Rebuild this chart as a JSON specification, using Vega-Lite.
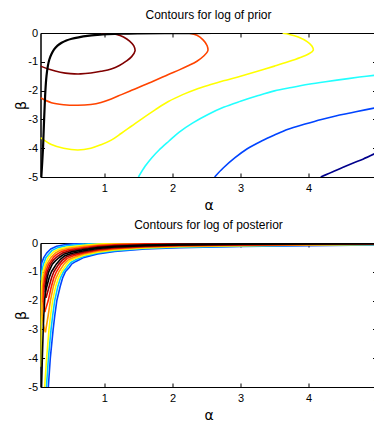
{
  "$schema": "https://vega.github.io/schema/vega-lite/v6.json",
  "background": "white",
  "padding": {"left": 13.5, "top": 8, "right": 0, "bottom": 0},
  "spacing": 66,
  "bounds": "flush",
  "datasets": {
    "prior": [
      {"curve":"p6","level":6,"alpha":0.06,"beta":-1.15},{"curve":"p6","level":6,"alpha":0.2,"beta":-1.27},{"curve":"p6","level":6,"alpha":0.35,"beta":-1.36},{"curve":"p6","level":6,"alpha":0.5,"beta":-1.41},{"curve":"p6","level":6,"alpha":0.65,"beta":-1.42},{"curve":"p6","level":6,"alpha":0.8,"beta":-1.39},{"curve":"p6","level":6,"alpha":0.95,"beta":-1.33},{"curve":"p6","level":6,"alpha":1.1,"beta":-1.25},{"curve":"p6","level":6,"alpha":1.22,"beta":-1.13},{"curve":"p6","level":6,"alpha":1.32,"beta":-0.98},{"curve":"p6","level":6,"alpha":1.4,"beta":-0.82},{"curve":"p6","level":6,"alpha":1.45,"beta":-0.62},{"curve":"p6","level":6,"alpha":1.43,"beta":-0.44},{"curve":"p6","level":6,"alpha":1.37,"beta":-0.28},{"curve":"p6","level":6,"alpha":1.28,"beta":-0.14},{"curve":"p6","level":6,"alpha":1.18,"beta":-0.05},{"curve":"p6","level":6,"alpha":1.08,"beta":-0.02},{"curve":"p6","level":6,"alpha":0.95,"beta":-0.01},
      {"curve":"p5","level":5,"alpha":0.06,"beta":-2.25},{"curve":"p5","level":5,"alpha":0.22,"beta":-2.42},{"curve":"p5","level":5,"alpha":0.4,"beta":-2.49},{"curve":"p5","level":5,"alpha":0.61,"beta":-2.51},{"curve":"p5","level":5,"alpha":0.8,"beta":-2.48},{"curve":"p5","level":5,"alpha":0.95,"beta":-2.41},{"curve":"p5","level":5,"alpha":1.1,"beta":-2.29},{"curve":"p5","level":5,"alpha":1.25,"beta":-2.14},{"curve":"p5","level":5,"alpha":1.4,"beta":-1.99},{"curve":"p5","level":5,"alpha":1.55,"beta":-1.84},{"curve":"p5","level":5,"alpha":1.75,"beta":-1.64},{"curve":"p5","level":5,"alpha":1.94,"beta":-1.44},{"curve":"p5","level":5,"alpha":2.1,"beta":-1.28},{"curve":"p5","level":5,"alpha":2.23,"beta":-1.14},{"curve":"p5","level":5,"alpha":2.36,"beta":-0.98},{"curve":"p5","level":5,"alpha":2.46,"beta":-0.8},{"curve":"p5","level":5,"alpha":2.52,"beta":-0.62},{"curve":"p5","level":5,"alpha":2.51,"beta":-0.44},{"curve":"p5","level":5,"alpha":2.45,"beta":-0.24},{"curve":"p5","level":5,"alpha":2.36,"beta":-0.08},{"curve":"p5","level":5,"alpha":2.25,"beta":-0.01},
      {"curve":"p4","level":4,"alpha":0.06,"beta":-3.63},{"curve":"p4","level":4,"alpha":0.22,"beta":-3.87},{"curve":"p4","level":4,"alpha":0.4,"beta":-4.0},{"curve":"p4","level":4,"alpha":0.61,"beta":-4.06},{"curve":"p4","level":4,"alpha":0.8,"beta":-4.0},{"curve":"p4","level":4,"alpha":0.95,"beta":-3.88},{"curve":"p4","level":4,"alpha":1.1,"beta":-3.72},{"curve":"p4","level":4,"alpha":1.25,"beta":-3.48},{"curve":"p4","level":4,"alpha":1.4,"beta":-3.23},{"curve":"p4","level":4,"alpha":1.55,"beta":-2.98},{"curve":"p4","level":4,"alpha":1.75,"beta":-2.66},{"curve":"p4","level":4,"alpha":1.94,"beta":-2.38},{"curve":"p4","level":4,"alpha":2.15,"beta":-2.14},{"curve":"p4","level":4,"alpha":2.35,"beta":-1.95},{"curve":"p4","level":4,"alpha":2.55,"beta":-1.8},{"curve":"p4","level":4,"alpha":2.75,"beta":-1.66},{"curve":"p4","level":4,"alpha":3.0,"beta":-1.5},{"curve":"p4","level":4,"alpha":3.25,"beta":-1.33},{"curve":"p4","level":4,"alpha":3.5,"beta":-1.15},{"curve":"p4","level":4,"alpha":3.7,"beta":-1.0},{"curve":"p4","level":4,"alpha":3.88,"beta":-0.85},{"curve":"p4","level":4,"alpha":4.0,"beta":-0.73},{"curve":"p4","level":4,"alpha":4.07,"beta":-0.6},{"curve":"p4","level":4,"alpha":4.05,"beta":-0.45},{"curve":"p4","level":4,"alpha":3.98,"beta":-0.3},{"curve":"p4","level":4,"alpha":3.85,"beta":-0.14},{"curve":"p4","level":4,"alpha":3.72,"beta":-0.05},{"curve":"p4","level":4,"alpha":3.62,"beta":-0.01},
      {"curve":"p3","level":3,"alpha":1.5,"beta":-5},{"curve":"p3","level":3,"alpha":1.6,"beta":-4.62},{"curve":"p3","level":3,"alpha":1.7,"beta":-4.32},{"curve":"p3","level":3,"alpha":1.8,"beta":-4.07},{"curve":"p3","level":3,"alpha":1.95,"beta":-3.75},{"curve":"p3","level":3,"alpha":2.1,"beta":-3.44},{"curve":"p3","level":3,"alpha":2.3,"beta":-3.12},{"curve":"p3","level":3,"alpha":2.53,"beta":-2.82},{"curve":"p3","level":3,"alpha":2.75,"beta":-2.58},{"curve":"p3","level":3,"alpha":3.0,"beta":-2.37},{"curve":"p3","level":3,"alpha":3.25,"beta":-2.18},{"curve":"p3","level":3,"alpha":3.5,"beta":-2.01},{"curve":"p3","level":3,"alpha":3.75,"beta":-1.89},{"curve":"p3","level":3,"alpha":4.0,"beta":-1.78},{"curve":"p3","level":3,"alpha":4.25,"beta":-1.69},{"curve":"p3","level":3,"alpha":4.5,"beta":-1.61},{"curve":"p3","level":3,"alpha":4.75,"beta":-1.53},{"curve":"p3","level":3,"alpha":5.0,"beta":-1.46},
      {"curve":"p2","level":2,"alpha":2.62,"beta":-5},{"curve":"p2","level":2,"alpha":2.75,"beta":-4.68},{"curve":"p2","level":2,"alpha":2.92,"beta":-4.33},{"curve":"p2","level":2,"alpha":3.1,"beta":-4.02},{"curve":"p2","level":2,"alpha":3.31,"beta":-3.75},{"curve":"p2","level":2,"alpha":3.5,"beta":-3.54},{"curve":"p2","level":2,"alpha":3.7,"beta":-3.34},{"curve":"p2","level":2,"alpha":3.95,"beta":-3.16},{"curve":"p2","level":2,"alpha":4.19,"beta":-3.0},{"curve":"p2","level":2,"alpha":4.4,"beta":-2.88},{"curve":"p2","level":2,"alpha":4.63,"beta":-2.77},{"curve":"p2","level":2,"alpha":4.85,"beta":-2.66},{"curve":"p2","level":2,"alpha":5.0,"beta":-2.59},
      {"curve":"p1","level":1,"alpha":4.18,"beta":-5},{"curve":"p1","level":1,"alpha":4.35,"beta":-4.83},{"curve":"p1","level":1,"alpha":4.5,"beta":-4.67},{"curve":"p1","level":1,"alpha":4.65,"beta":-4.52},{"curve":"p1","level":1,"alpha":4.8,"beta":-4.38},{"curve":"p1","level":1,"alpha":5.0,"beta":-4.16},
      {"curve":"pk","level":7,"alpha":0.072,"beta":-5},{"curve":"pk","level":7,"alpha":0.085,"beta":-4.5},{"curve":"pk","level":7,"alpha":0.097,"beta":-4.0},{"curve":"pk","level":7,"alpha":0.105,"beta":-3.5},{"curve":"pk","level":7,"alpha":0.113,"beta":-3.0},{"curve":"pk","level":7,"alpha":0.122,"beta":-2.5},{"curve":"pk","level":7,"alpha":0.132,"beta":-2.0},{"curve":"pk","level":7,"alpha":0.148,"beta":-1.5},{"curve":"pk","level":7,"alpha":0.168,"beta":-1.15},{"curve":"pk","level":7,"alpha":0.19,"beta":-0.92},{"curve":"pk","level":7,"alpha":0.22,"beta":-0.74},{"curve":"pk","level":7,"alpha":0.26,"beta":-0.57},{"curve":"pk","level":7,"alpha":0.31,"beta":-0.44},{"curve":"pk","level":7,"alpha":0.37,"beta":-0.34},{"curve":"pk","level":7,"alpha":0.44,"beta":-0.26},{"curve":"pk","level":7,"alpha":0.52,"beta":-0.2},{"curve":"pk","level":7,"alpha":0.62,"beta":-0.15},{"curve":"pk","level":7,"alpha":0.75,"beta":-0.1},{"curve":"pk","level":7,"alpha":0.9,"beta":-0.065},{"curve":"pk","level":7,"alpha":1.05,"beta":-0.04},{"curve":"pk","level":7,"alpha":1.25,"beta":-0.02},{"curve":"pk","level":7,"alpha":1.5,"beta":-0.01},{"curve":"pk","level":7,"alpha":2.0,"beta":-0.003},{"curve":"pk","level":7,"alpha":2.6,"beta":0}
    ],
    "posterior": [
      {"curve":"k0","level":1,"alpha":0.06,"beta":-0.92},{"curve":"k0","level":1,"alpha":0.079,"beta":-0.68},{"curve":"k0","level":1,"alpha":0.11,"beta":-0.5},{"curve":"k0","level":1,"alpha":0.15,"beta":-0.35},{"curve":"k0","level":1,"alpha":0.21,"beta":-0.208},{"curve":"k0","level":1,"alpha":0.298,"beta":-0.114},{"curve":"k0","level":1,"alpha":0.43,"beta":-0.052},{"curve":"k0","level":1,"alpha":0.7,"beta":0},
      {"curve":"k13","level":1,"alpha":0.175,"beta":-5},{"curve":"k13","level":1,"alpha":0.204,"beta":-4},{"curve":"k13","level":1,"alpha":0.246,"beta":-3},{"curve":"k13","level":1,"alpha":0.271,"beta":-2.5},{"curve":"k13","level":1,"alpha":0.3,"beta":-2.0},{"curve":"k13","level":1,"alpha":0.35,"beta":-1.5},{"curve":"k13","level":1,"alpha":0.387,"beta":-1.2},{"curve":"k13","level":1,"alpha":0.425,"beta":-1.0},{"curve":"k13","level":1,"alpha":0.482,"beta":-0.851},{"curve":"k13","level":1,"alpha":0.521,"beta":-0.724},{"curve":"k13","level":1,"alpha":0.58,"beta":-0.64},{"curve":"k13","level":1,"alpha":0.7,"beta":-0.5},{"curve":"k13","level":1,"alpha":0.9,"beta":-0.378},{"curve":"k13","level":1,"alpha":1.15,"beta":-0.292},{"curve":"k13","level":1,"alpha":1.6,"beta":-0.208},{"curve":"k13","level":1,"alpha":2.1,"beta":-0.16},{"curve":"k13","level":1,"alpha":3,"beta":-0.122},{"curve":"k13","level":1,"alpha":4,"beta":-0.09},{"curve":"k13","level":1,"alpha":5,"beta":-0.069},
      {"curve":"k1","level":2,"alpha":0.06,"beta":-1.3},{"curve":"k1","level":2,"alpha":0.078,"beta":-1.0},{"curve":"k1","level":2,"alpha":0.101,"beta":-0.75},{"curve":"k1","level":2,"alpha":0.141,"beta":-0.5},{"curve":"k1","level":2,"alpha":0.184,"beta":-0.38},{"curve":"k1","level":2,"alpha":0.231,"beta":-0.257},{"curve":"k1","level":2,"alpha":0.315,"beta":-0.16},{"curve":"k1","level":2,"alpha":0.442,"beta":-0.096},{"curve":"k1","level":2,"alpha":0.7,"beta":-0.0385},{"curve":"k1","level":2,"alpha":0.9,"beta":-0.007},{"curve":"k1","level":2,"alpha":0.98,"beta":0},
      {"curve":"k12","level":2,"alpha":0.147,"beta":-5},{"curve":"k12","level":2,"alpha":0.176,"beta":-4},{"curve":"k12","level":2,"alpha":0.215,"beta":-3},{"curve":"k12","level":2,"alpha":0.24,"beta":-2.5},{"curve":"k12","level":2,"alpha":0.269,"beta":-2.0},{"curve":"k12","level":2,"alpha":0.316,"beta":-1.5},{"curve":"k12","level":2,"alpha":0.356,"beta":-1.2},{"curve":"k12","level":2,"alpha":0.397,"beta":-1.0},{"curve":"k12","level":2,"alpha":0.462,"beta":-0.802},{"curve":"k12","level":2,"alpha":0.505,"beta":-0.677},{"curve":"k12","level":2,"alpha":0.569,"beta":-0.594},{"curve":"k12","level":2,"alpha":0.7,"beta":-0.462},{"curve":"k12","level":2,"alpha":0.9,"beta":-0.347},{"curve":"k12","level":2,"alpha":1.15,"beta":-0.266},{"curve":"k12","level":2,"alpha":1.6,"beta":-0.188},{"curve":"k12","level":2,"alpha":2.1,"beta":-0.144},{"curve":"k12","level":2,"alpha":3,"beta":-0.109},{"curve":"k12","level":2,"alpha":4,"beta":-0.08},{"curve":"k12","level":2,"alpha":5,"beta":-0.061},
      {"curve":"k2","level":3,"alpha":0.06,"beta":-4.3},{"curve":"k2","level":3,"alpha":0.065,"beta":-4.0},{"curve":"k2","level":3,"alpha":0.068,"beta":-3.0},{"curve":"k2","level":3,"alpha":0.071,"beta":-2.0},{"curve":"k2","level":3,"alpha":0.076,"beta":-1.5},{"curve":"k2","level":3,"alpha":0.085,"beta":-1.2},{"curve":"k2","level":3,"alpha":0.097,"beta":-1.0},{"curve":"k2","level":3,"alpha":0.125,"beta":-0.75},{"curve":"k2","level":3,"alpha":0.176,"beta":-0.5},{"curve":"k2","level":3,"alpha":0.252,"beta":-0.306},{"curve":"k2","level":3,"alpha":0.333,"beta":-0.206},{"curve":"k2","level":3,"alpha":0.454,"beta":-0.14},{"curve":"k2","level":3,"alpha":0.7,"beta":-0.077},{"curve":"k2","level":3,"alpha":0.9,"beta":-0.038},{"curve":"k2","level":3,"alpha":1.15,"beta":-0.01},{"curve":"k2","level":3,"alpha":1.39,"beta":0},
      {"curve":"k11","level":3,"alpha":0.121,"beta":-5},{"curve":"k11","level":3,"alpha":0.15,"beta":-4},{"curve":"k11","level":3,"alpha":0.185,"beta":-3},{"curve":"k11","level":3,"alpha":0.209,"beta":-2.5},{"curve":"k11","level":3,"alpha":0.238,"beta":-2.0},{"curve":"k11","level":3,"alpha":0.284,"beta":-1.5},{"curve":"k11","level":3,"alpha":0.326,"beta":-1.2},{"curve":"k11","level":3,"alpha":0.368,"beta":-1.0},{"curve":"k11","level":3,"alpha":0.44,"beta":-0.75},{"curve":"k11","level":3,"alpha":0.487,"beta":-0.628},{"curve":"k11","level":3,"alpha":0.557,"beta":-0.546},{"curve":"k11","level":3,"alpha":0.7,"beta":-0.423},{"curve":"k11","level":3,"alpha":0.9,"beta":-0.316},{"curve":"k11","level":3,"alpha":1.15,"beta":-0.24},{"curve":"k11","level":3,"alpha":1.6,"beta":-0.169},{"curve":"k11","level":3,"alpha":2.1,"beta":-0.128},{"curve":"k11","level":3,"alpha":3,"beta":-0.096},{"curve":"k11","level":3,"alpha":4,"beta":-0.07},{"curve":"k11","level":3,"alpha":5,"beta":-0.053},
      {"curve":"k3","level":4,"alpha":0.132,"beta":-3.1},{"curve":"k3","level":4,"alpha":0.103,"beta":-2.85},{"curve":"k3","level":4,"alpha":0.085,"beta":-2.5},{"curve":"k3","level":4,"alpha":0.084,"beta":-2.0},{"curve":"k3","level":4,"alpha":0.091,"beta":-1.5},{"curve":"k3","level":4,"alpha":0.103,"beta":-1.2},{"curve":"k3","level":4,"alpha":0.118,"beta":-1.0},{"curve":"k3","level":4,"alpha":0.15,"beta":-0.75},{"curve":"k3","level":4,"alpha":0.215,"beta":-0.5},{"curve":"k3","level":4,"alpha":0.274,"beta":-0.358},{"curve":"k3","level":4,"alpha":0.351,"beta":-0.254},{"curve":"k3","level":4,"alpha":0.466,"beta":-0.184},{"curve":"k3","level":4,"alpha":0.7,"beta":-0.115},{"curve":"k3","level":4,"alpha":0.9,"beta":-0.069},{"curve":"k3","level":4,"alpha":1.15,"beta":-0.035},{"curve":"k3","level":4,"alpha":1.6,"beta":-0.011},{"curve":"k3","level":4,"alpha":2.1,"beta":0},
      {"curve":"k10","level":4,"alpha":0.132,"beta":-3.1},{"curve":"k10","level":4,"alpha":0.174,"beta":-2.5},{"curve":"k10","level":4,"alpha":0.206,"beta":-2.0},{"curve":"k10","level":4,"alpha":0.25,"beta":-1.5},{"curve":"k10","level":4,"alpha":0.291,"beta":-1.2},{"curve":"k10","level":4,"alpha":0.331,"beta":-1.0},{"curve":"k10","level":4,"alpha":0.401,"beta":-0.75},{"curve":"k10","level":4,"alpha":0.419,"beta":-0.701},{"curve":"k10","level":4,"alpha":0.47,"beta":-0.58},{"curve":"k10","level":4,"alpha":0.546,"beta":-0.5},{"curve":"k10","level":4,"alpha":0.7,"beta":-0.385},{"curve":"k10","level":4,"alpha":0.9,"beta":-0.285},{"curve":"k10","level":4,"alpha":1.15,"beta":-0.215},{"curve":"k10","level":4,"alpha":1.6,"beta":-0.149},{"curve":"k10","level":4,"alpha":2.1,"beta":-0.112},{"curve":"k10","level":4,"alpha":3,"beta":-0.083},{"curve":"k10","level":4,"alpha":4,"beta":-0.06},{"curve":"k10","level":4,"alpha":5,"beta":-0.044},
      {"curve":"k4","level":5,"alpha":0.122,"beta":-2.4},{"curve":"k4","level":5,"alpha":0.101,"beta":-2.0},{"curve":"k4","level":5,"alpha":0.106,"beta":-1.5},{"curve":"k4","level":5,"alpha":0.121,"beta":-1.2},{"curve":"k4","level":5,"alpha":0.138,"beta":-1.0},{"curve":"k4","level":5,"alpha":0.176,"beta":-0.75},{"curve":"k4","level":5,"alpha":0.25,"beta":-0.5},{"curve":"k4","level":5,"alpha":0.294,"beta":-0.406},{"curve":"k4","level":5,"alpha":0.367,"beta":-0.3},{"curve":"k4","level":5,"alpha":0.477,"beta":-0.229},{"curve":"k4","level":5,"alpha":0.7,"beta":-0.154},{"curve":"k4","level":5,"alpha":0.9,"beta":-0.1},{"curve":"k4","level":5,"alpha":1.15,"beta":-0.061},{"curve":"k4","level":5,"alpha":1.6,"beta":-0.03},{"curve":"k4","level":5,"alpha":2.1,"beta":-0.016},{"curve":"k4","level":5,"alpha":3,"beta":-0.006},{"curve":"k4","level":5,"alpha":4,"beta":0},
      {"curve":"k9","level":5,"alpha":0.122,"beta":-2.4},{"curve":"k9","level":5,"alpha":0.174,"beta":-2.0},{"curve":"k9","level":5,"alpha":0.221,"beta":-1.5},{"curve":"k9","level":5,"alpha":0.257,"beta":-1.2},{"curve":"k9","level":5,"alpha":0.294,"beta":-1.0},{"curve":"k9","level":5,"alpha":0.36,"beta":-0.75},{"curve":"k9","level":5,"alpha":0.399,"beta":-0.653},{"curve":"k9","level":5,"alpha":0.453,"beta":-0.534},{"curve":"k9","level":5,"alpha":0.535,"beta":-0.455},{"curve":"k9","level":5,"alpha":0.7,"beta":-0.346},{"curve":"k9","level":5,"alpha":0.9,"beta":-0.254},{"curve":"k9","level":5,"alpha":1.15,"beta":-0.189},{"curve":"k9","level":5,"alpha":1.6,"beta":-0.129},{"curve":"k9","level":5,"alpha":2.1,"beta":-0.096},{"curve":"k9","level":5,"alpha":3,"beta":-0.07},{"curve":"k9","level":5,"alpha":4,"beta":-0.05},{"curve":"k9","level":5,"alpha":5,"beta":-0.036},
      {"curve":"k5","level":6,"alpha":0.141,"beta":-1.9},{"curve":"k5","level":6,"alpha":0.124,"beta":-1.5},{"curve":"k5","level":6,"alpha":0.14,"beta":-1.2},{"curve":"k5","level":6,"alpha":0.159,"beta":-1.0},{"curve":"k5","level":6,"alpha":0.203,"beta":-0.75},{"curve":"k5","level":6,"alpha":0.25,"beta":-0.59},{"curve":"k5","level":6,"alpha":0.315,"beta":-0.455},{"curve":"k5","level":6,"alpha":0.384,"beta":-0.346},{"curve":"k5","level":6,"alpha":0.488,"beta":-0.273},{"curve":"k5","level":6,"alpha":0.7,"beta":-0.192},{"curve":"k5","level":6,"alpha":0.9,"beta":-0.131},{"curve":"k5","level":6,"alpha":1.15,"beta":-0.086},{"curve":"k5","level":6,"alpha":1.6,"beta":-0.05},{"curve":"k5","level":6,"alpha":2.1,"beta":-0.032},{"curve":"k5","level":6,"alpha":3,"beta":-0.019},{"curve":"k5","level":6,"alpha":4,"beta":-0.009},{"curve":"k5","level":6,"alpha":5,"beta":-0.003},
      {"curve":"k8","level":6,"alpha":0.141,"beta":-1.9},{"curve":"k8","level":6,"alpha":0.188,"beta":-1.5},{"curve":"k8","level":6,"alpha":0.224,"beta":-1.2},{"curve":"k8","level":6,"alpha":0.257,"beta":-1.0},{"curve":"k8","level":6,"alpha":0.324,"beta":-0.75},{"curve":"k8","level":6,"alpha":0.378,"beta":-0.604},{"curve":"k8","level":6,"alpha":0.436,"beta":-0.487},{"curve":"k8","level":6,"alpha":0.523,"beta":-0.409},{"curve":"k8","level":6,"alpha":0.7,"beta":-0.308},{"curve":"k8","level":6,"alpha":0.9,"beta":-0.224},{"curve":"k8","level":6,"alpha":1.15,"beta":-0.163},{"curve":"k8","level":6,"alpha":1.6,"beta":-0.109},{"curve":"k8","level":6,"alpha":2.1,"beta":-0.08},{"curve":"k8","level":6,"alpha":3,"beta":-0.057},{"curve":"k8","level":6,"alpha":4,"beta":-0.04},{"curve":"k8","level":6,"alpha":5,"beta":-0.028},
      {"curve":"k6","level":7,"alpha":0.076,"beta":-5},{"curve":"k6","level":7,"alpha":0.087,"beta":-4},{"curve":"k6","level":7,"alpha":0.1,"beta":-3},{"curve":"k6","level":7,"alpha":0.109,"beta":-2.5},{"curve":"k6","level":7,"alpha":0.121,"beta":-2.0},{"curve":"k6","level":7,"alpha":0.138,"beta":-1.5},{"curve":"k6","level":7,"alpha":0.159,"beta":-1.2},{"curve":"k6","level":7,"alpha":0.181,"beta":-1.0},{"curve":"k6","level":7,"alpha":0.231,"beta":-0.75},{"curve":"k6","level":7,"alpha":0.278,"beta":-0.62},{"curve":"k6","level":7,"alpha":0.335,"beta":-0.503},{"curve":"k6","level":7,"alpha":0.401,"beta":-0.392},{"curve":"k6","level":7,"alpha":0.499,"beta":-0.318},{"curve":"k6","level":7,"alpha":0.7,"beta":-0.231},{"curve":"k6","level":7,"alpha":0.9,"beta":-0.162},{"curve":"k6","level":7,"alpha":1.15,"beta":-0.112},{"curve":"k6","level":7,"alpha":1.6,"beta":-0.07},{"curve":"k6","level":7,"alpha":2.1,"beta":-0.048},{"curve":"k6","level":7,"alpha":3,"beta":-0.032},{"curve":"k6","level":7,"alpha":4,"beta":-0.019},{"curve":"k6","level":7,"alpha":5,"beta":-0.011},
      {"curve":"k7","level":7,"alpha":0.132,"beta":-1.7},{"curve":"k7","level":7,"alpha":0.154,"beta":-1.5},{"curve":"k7","level":7,"alpha":0.188,"beta":-1.2},{"curve":"k7","level":7,"alpha":0.221,"beta":-1.0},{"curve":"k7","level":7,"alpha":0.288,"beta":-0.75},{"curve":"k7","level":7,"alpha":0.357,"beta":-0.556},{"curve":"k7","level":7,"alpha":0.419,"beta":-0.441},{"curve":"k7","level":7,"alpha":0.511,"beta":-0.364},{"curve":"k7","level":7,"alpha":0.7,"beta":-0.269},{"curve":"k7","level":7,"alpha":0.9,"beta":-0.192},{"curve":"k7","level":7,"alpha":1.15,"beta":-0.138},{"curve":"k7","level":7,"alpha":1.6,"beta":-0.09},{"curve":"k7","level":7,"alpha":2.1,"beta":-0.064},{"curve":"k7","level":7,"alpha":3,"beta":-0.044},{"curve":"k7","level":7,"alpha":4,"beta":-0.029},{"curve":"k7","level":7,"alpha":5,"beta":-0.02}
    ]
  },
  "vconcat": [
    {
      "width": 336,
      "height": 144,
      "title": "Contours for log of prior",
      "data": {"name": "prior"},
      "layer": [
        {
          "mark": {"type": "line", "clip": true, "interpolate": "catmull-rom", "strokeJoin": "round"},
          "encoding": {
            "x": {"field": "alpha", "type": "quantitative", "scale": {"domain": [0.06, 5], "nice": false, "zero": false},
                  "axis": {"values": [1, 2, 3, 4, 5], "title": "α", "labelPadding": 9.5, "titlePadding": 5}},
            "y": {"field": "beta", "type": "quantitative", "scale": {"domain": [-5, 0], "nice": false, "zero": false},
                  "axis": {"values": [0, -1, -2, -3, -4, -5], "title": "β", "labelPadding": 7,
                           "titleX": -19, "titleY": 72, "titleBaseline": "middle", "titleAlign": "center",
                           "labelExpr": "datum.value == 0 ? '0' : '-' + abs(datum.value)"}},
            "color": {"field": "level", "type": "nominal", "legend": null,
                      "scale": {"domain": [1, 2, 3, 4, 5, 6, 7], "range": ["#00008c", "#0044ff", "#22ffff", "#ffff00", "#ff4400", "#800000", "#000000"]}},
            "detail": {"field": "curve"},
            "order": {"value": null},
            "strokeWidth": {"condition": {"test": "datum.level === 7", "value": 2.2}, "value": 1.6}
          }
        },
        {
          "mark": {"type": "line", "opacity": 0},
          "encoding": {
            "x": {"field": "alpha", "type": "quantitative", "axis": {"orient": "top", "values": [1, 2, 3, 4, 5], "labels": false, "domain": false, "title": null, "minExtent": 0, "maxExtent": 0, "labelPadding": 0}},
            "y": {"field": "beta", "type": "quantitative", "axis": {"orient": "right", "values": [0, -1, -2, -3, -4, -5], "labels": false, "domain": false, "title": null, "minExtent": 0, "maxExtent": 0, "labelPadding": 0}},
            "detail": {"field": "curve"}
          }
        }
      ],
      "resolve": {"axis": {"x": "independent", "y": "independent"}}
    },
    {
      "width": 336,
      "height": 144,
      "title": "Contours for log of posterior",
      "data": {"name": "posterior"},
      "layer": [
        {
          "mark": {"type": "line", "clip": true, "strokeJoin": "round"},
          "encoding": {
            "x": {"field": "alpha", "type": "quantitative", "scale": {"domain": [0.06, 5], "nice": false, "zero": false},
                  "axis": {"values": [1, 2, 3, 4, 5], "title": "α", "labelPadding": 9.5, "titlePadding": 5}},
            "y": {"field": "beta", "type": "quantitative", "scale": {"domain": [-5, 0], "nice": false, "zero": false},
                  "axis": {"values": [0, -1, -2, -3, -4, -5], "title": "β", "labelPadding": 7,
                           "titleX": -19, "titleY": 72, "titleBaseline": "middle", "titleAlign": "center",
                           "labelExpr": "datum.value == 0 ? '0' : '-' + abs(datum.value)"}},
            "color": {"field": "level", "type": "nominal", "legend": null,
                      "scale": {"domain": [1, 2, 3, 4, 5, 6, 7], "range": ["#0044ff", "#00c8ff", "#ffff00", "#ff9900", "#ff2200", "#a00000", "#000000"]}},
            "detail": {"field": "curve"},
            "order": {"value": null},
            "strokeWidth": {"value": 1.6}
          }
        },
        {
          "mark": {"type": "line", "opacity": 0},
          "encoding": {
            "x": {"field": "alpha", "type": "quantitative", "axis": {"orient": "top", "values": [1, 2, 3, 4, 5], "labels": false, "domain": false, "title": null, "minExtent": 0, "maxExtent": 0, "labelPadding": 0}},
            "y": {"field": "beta", "type": "quantitative", "axis": {"orient": "right", "values": [0, -1, -2, -3, -4, -5], "labels": false, "domain": false, "title": null, "minExtent": 0, "maxExtent": 0, "labelPadding": 0}},
            "detail": {"field": "curve"}
          }
        }
      ],
      "resolve": {"axis": {"x": "independent", "y": "independent"}}
    }
  ],
  "resolve": {"scale": {"color": "independent"}},
  "config": {
    "view": {"stroke": "#000000", "strokeWidth": 1},
    "font": "Liberation Sans",
    "axis": {
      "grid": false, "domainColor": "#000000", "tickColor": "#000000", "tickSize": -4,
      "labelColor": "#000000", "labelFont": "Liberation Sans", "labelFontSize": 11,
      "labelFlush": false, "labelOverlap": false,
      "titleColor": "#000000", "titleFont": "DejaVu Sans", "titleFontSize": 14, "titleFontWeight": "normal"
    },
    "title": {"font": "Liberation Sans", "fontSize": 12, "fontWeight": "normal", "color": "#000000", "anchor": "middle", "offset": 5}
  }
}
